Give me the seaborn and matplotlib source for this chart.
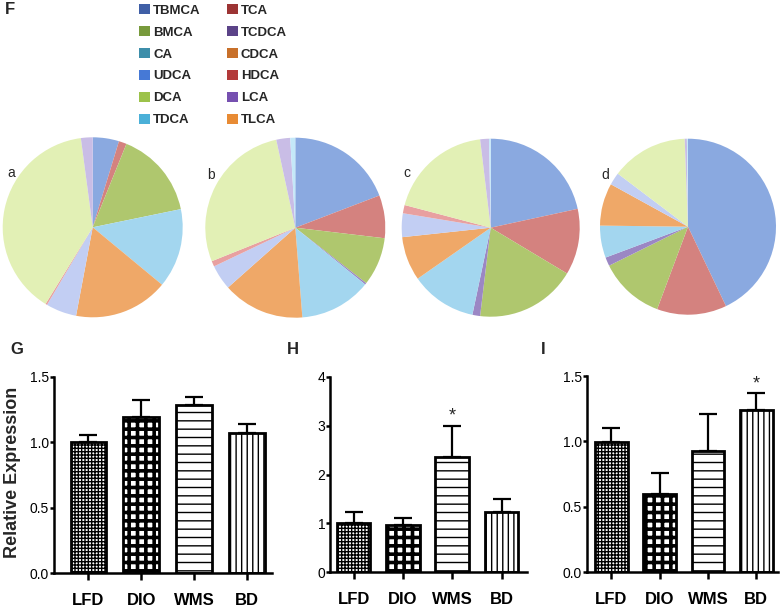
import numpy as np
import pandas as pd
import matplotlib
matplotlib.use('Agg')
import matplotlib.pyplot as plt
from matplotlib.patches import Patch
import seaborn as sns

# bile acid composition (% of total)
acids = ['TBMCA', 'TCA', 'BMCA', 'TCDCA', 'CA', 'CDCA',
         'UDCA', 'HDCA', 'DCA', 'LCA', 'TDCA', 'TLCA']
pie_a = [4.7, 1.4, 15.6, 0.0, 14.2, 16.9, 5.5, 0.3, 39.0, 2.1, 0.0, 0.0]
pie_b = [19.2, 7.7, 8.7, 0.3, 12.9, 14.7, 4.5, 1.0, 27.7, 2.5, 0.9, 0.0]
pie_c = [21.6, 12.0, 18.3, 1.4, 12.0, 8.0, 4.3, 1.5, 19.0, 1.6, 0.3, 0.0]
pie_d = [42.9, 12.8, 12.0, 1.6, 5.9, 7.8, 2.3, 0.0, 14.1, 0.4, 0.2, 0.0]
pie_names = ['a', 'b', 'c', 'd']

# relative expression bars (mean, upper error)
groups = ['LFD', 'DIO', 'WMS', 'BD']
g_mean = [1.005, 1.19, 1.285, 1.074]
g_err = [0.05, 0.13, 0.062, 0.066]
h_mean = [1.0, 0.97, 2.36, 1.23]
h_err = [0.24, 0.15, 0.64, 0.26]
i_mean = [0.998, 0.598, 0.927, 1.238]
i_err = [0.102, 0.158, 0.282, 0.129]

legend_colors = ['#3f5fa6', '#9c3434', '#789a3c', '#5b4388', '#3d8eaa', '#c8702a',
                 '#4679d6', '#b33a3a', '#9cc24a', '#7650b0', '#4bb0d8', '#e88b34']
pie_colors = ['#8aa9e0', '#d4827f', '#afc76e', '#9b87c4', '#a3d6ef', '#efa868',
              '#c2cef3', '#e8a0a0', '#e2f0b5', '#c9bde6', '#c4e8f8', '#f2ae70']

sns.set_theme(style='white')
plt.rcParams['font.family'] = ['Liberation Sans', 'DejaVu Sans']
plt.rcParams['hatch.linewidth'] = 1.0

W, H = 781, 610
fig = plt.figure(figsize=(7.81, 6.10), dpi=100)


def box(x0, y0, x1, y1):
    # pixel box (top-left origin) -> figure fraction
    return [x0 / W, 1 - y1 / H, (x1 - x0) / W, (y1 - y0) / H]


# ---- pies ----
pie_data = [pie_a, pie_b, pie_c, pie_d]
centers = [(92.7, 227.3, 90), (295.3, 227.7, 90), (490.7, 227.7, 89), (688, 226.7, 88)]
label_pos = [(7, 173), (207, 175), (403, 173), (601, 175)]
for vals, (cx, cy, r), name, (lx, ly) in zip(pie_data, centers, pie_names, label_pos):
    ax = fig.add_axes(box(cx - r, cy - r, cx + r, cy + r))
    ax.pie(vals, colors=pie_colors, startangle=90, counterclock=False,
           wedgeprops=dict(linewidth=0))
    ax.set_xlim(-1, 1)
    ax.set_ylim(-1, 1)
    ax.set_aspect('auto')
    fig.text(lx / W, 1 - ly / H, name, fontsize=10, ha='left', va='center')

fig.text(5 / W, 1 - 9 / H, 'F', fontsize=12, fontweight='bold', ha='left', va='center')

handles = [Patch(facecolor=c, edgecolor='none') for c in legend_colors]
order = list(range(0, 12, 2)) + list(range(1, 12, 2))
fig.legend([handles[k] for k in order], [acids[k] for k in order],
           loc='upper left', bbox_to_anchor=(130 / W, 1 + 5 / H), ncol=2,
           frameon=False, prop=dict(weight='bold', size=9.5),
           handlelength=0.8, handleheight=0.8, handletextpad=0.25,
           labelspacing=0.7, columnspacing=2.0, borderpad=0.2)

# ---- bar panels ----
hatches = ['+++++', '++', '--', '|||']
panels = [
    ('G', g_mean, g_err, box(54, 376.8, 272, 573.3), (-0.653, 3.475), 1.5,
     [0, 0.5, 1.0, 1.5], '{:.1f}', None, (10, 349)),
    ('H', h_mean, h_err, box(330, 376.7, 526.7, 572.3), (-0.48, 3.51), 4,
     [0, 1, 2, 3, 4], '{:d}', 2, (287, 349)),
    ('I', i_mean, i_err, box(586.7, 376, 778, 572.3), (-0.51, 3.45), 1.5,
     [0, 0.5, 1.0, 1.5], '{:.1f}', 3, (541, 349)),
]
for letter, means, errs, pos, xl, ytop, yt, fmt, star, (px, py) in panels:
    ax = fig.add_axes(pos)
    df = pd.DataFrame({'group': groups, 'value': means})
    sns.barplot(data=df, x='group', y='value', ax=ax, color='white',
                edgecolor='black', linewidth=2.0, width=0.68, saturation=1)
    for k, (patch, h) in enumerate(zip(ax.patches, hatches)):
        patch.set_hatch(h)
        patch.set_facecolor('white')
        if k == 1 and hasattr(patch, 'set_hatch_linewidth'):
            patch.set_hatch_linewidth(2.6)
    ax.errorbar(range(4), means, yerr=[np.zeros(4), errs], fmt='none',
                ecolor='black', elinewidth=1.6, capsize=6.5, capthick=1.6, zorder=1)
    if star is not None:
        ax.annotate('*', (star, means[star] + errs[star]), xytext=(0, 1),
                    textcoords='offset points', ha='center', va='bottom',
                    fontsize=13)
    ax.set_xlim(*xl)
    ax.set_ylim(0, ytop)
    ax.set_yticks(yt)
    ax.set_yticklabels([fmt.format(v) for v in yt])
    ax.set_xlabel('')
    ax.set_ylabel('')
    for s in ['top', 'right']:
        ax.spines[s].set_visible(False)
    for s in ['left', 'bottom']:
        ax.spines[s].set_linewidth(1.8)
        ax.spines[s].set_color('black')
    ax.tick_params(axis='y', left=True, length=3, width=1.8, pad=0.5,
                   labelsize=10, colors='black')
    ax.tick_params(axis='x', bottom=True, length=5, width=1.8, pad=9,
                   labelsize=12, colors='black')
    for t in ax.get_xticklabels():
        t.set_fontweight('bold')
    ax.patch.set_alpha(0)
    fig.text(px / W, 1 - py / H, letter, fontsize=12, fontweight='bold',
             ha='left', va='center')

fig.text(13 / W, 1 - 472 / H, 'Relative Expression', rotation=90, fontsize=13,
         fontweight='bold', ha='center', va='center')

fig.savefig('out.png', dpi=100)
